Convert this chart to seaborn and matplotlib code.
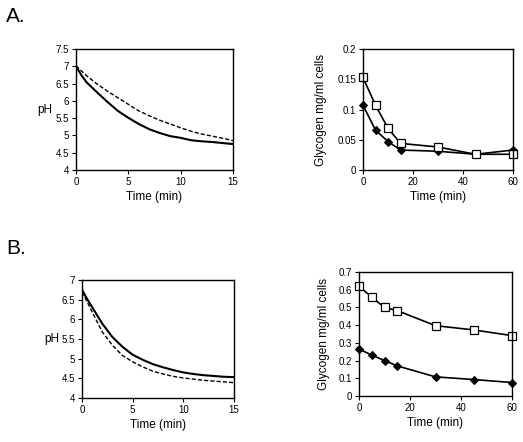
import matplotlib
matplotlib.use("Agg")
import matplotlib.pyplot as plt
import pandas as pd
import seaborn as sns

# pH traces (panel left), minutes
t_ph = [0, 0.5, 1, 2, 3, 4, 5, 6, 7, 8, 9, 10, 11, 12, 13, 14, 15]
ph_a_solid = [7.0, 6.75, 6.54, 6.25, 5.97, 5.71, 5.51, 5.33, 5.18, 5.07, 4.98, 4.93, 4.86, 4.83, 4.81, 4.78, 4.75]
ph_a_dash = [7.02, 6.87, 6.73, 6.49, 6.28, 6.09, 5.9, 5.71, 5.57, 5.44, 5.33, 5.22, 5.12, 5.04, 4.98, 4.92, 4.85]
ph_b_solid = [6.75, 6.52, 6.31, 5.89, 5.55, 5.3, 5.1, 4.97, 4.86, 4.78, 4.71, 4.65, 4.61, 4.58, 4.56, 4.54, 4.53]
ph_b_dash = [6.7, 6.45, 6.19, 5.68, 5.34, 5.08, 4.92, 4.79, 4.68, 4.61, 4.55, 4.51, 4.48, 4.45, 4.43, 4.41, 4.39]

# glycogen (panel right)
t_gly = [0, 5, 10, 15, 30, 45, 60]
gly_a_square = [0.153, 0.107, 0.069, 0.044, 0.038, 0.026, 0.026]
gly_a_diamond = [0.107, 0.066, 0.047, 0.033, 0.031, 0.026, 0.033]
gly_b_square = [0.62, 0.558, 0.5, 0.482, 0.397, 0.373, 0.341]
gly_b_diamond = [0.265, 0.231, 0.2, 0.17, 0.108, 0.093, 0.076]

sns.set_theme(style="white")
plt.rcParams["font.family"] = ["Liberation Sans", "DejaVu Sans"]
plt.rcParams["text.color"] = "black"
plt.rcParams["axes.labelcolor"] = "black"

W, H = 523, 442
fig = plt.figure(figsize=(W / 100, H / 100), dpi=100)


def px_axes(x0, y0, x1, y1):
    return fig.add_axes([x0 / W, 1 - y1 / H, (x1 - x0) / W, (y1 - y0) / H])


def style(ax):
    for s in ax.spines.values():
        s.set_visible(True)
        s.set_color("black")
        s.set_linewidth(1.0)
    ax.tick_params(direction="out", length=3, width=0.8, labelsize=7, pad=2,
                   bottom=True, left=True, colors="black")
    ax.set_xlabel("Time (min)", fontsize=8.5, labelpad=3)


def ph_panel(ax, solid, dash, ylim, yticks, ylabel_xy):
    df = pd.DataFrame({"t": t_ph, "solid": solid, "dash": dash})
    sns.lineplot(data=df, x="t", y="solid", ax=ax, color="black", lw=1.5)
    sns.lineplot(data=df, x="t", y="dash", ax=ax, color="black", lw=1.0, linestyle=(0, (3, 1.5)))
    ax.set_xlim(0, 15)
    ax.set_xticks([0, 5, 10, 15])
    ax.set_ylim(*ylim)
    ax.set_yticks(yticks)
    ax.set_yticklabels([f"{v:g}" for v in yticks])
    style(ax)
    ax.set_ylabel("pH", rotation=0, fontsize=8.5, ha="center", va="center")
    ax.yaxis.set_label_coords(*ylabel_xy)


def gly_panel(ax, square, diamond, ylim, yticks, ylabel_x):
    df = pd.DataFrame({"t": t_gly, "sq": square, "di": diamond})
    sns.lineplot(data=df, x="t", y="di", ax=ax, color="black", lw=1.2, clip_on=False,
                 marker="D", markersize=4.2, markerfacecolor="black", markeredgecolor="black")
    sns.lineplot(data=df, x="t", y="sq", ax=ax, color="black", lw=1.2, clip_on=False,
                 marker="s", markersize=6, markerfacecolor="white", markeredgecolor="black",
                 markeredgewidth=0.9)
    ax.set_xlim(0, 60)
    ax.set_xticks([0, 20, 40, 60])
    ax.set_ylim(*ylim)
    ax.set_yticks(yticks)
    ax.set_yticklabels([f"{v:g}" for v in yticks])
    style(ax)
    ax.set_ylabel("Glycogen mg/ml cells", fontsize=8.5)
    ax.yaxis.set_label_coords(ylabel_x, 0.5)


ax1 = px_axes(76, 49, 233, 170)
ph_panel(ax1, ph_a_solid, ph_a_dash, (4, 7.5), [4, 4.5, 5, 5.5, 6, 6.5, 7, 7.5], (-0.2, 0.5))

ax2 = px_axes(363, 49, 513, 170)
gly_panel(ax2, gly_a_square, gly_a_diamond, (0, 0.2), [0, 0.05, 0.1, 0.15, 0.2], -0.24)

ax3 = px_axes(82, 280, 234, 398)
ph_panel(ax3, ph_b_solid, ph_b_dash, (4, 7), [4, 4.5, 5, 5.5, 6, 6.5, 7], (-0.2, 0.5))

ax4 = px_axes(359, 272, 512, 396)
gly_panel(ax4, gly_b_square, gly_b_diamond, (0, 0.7), [0, 0.1, 0.2, 0.3, 0.4, 0.5, 0.6, 0.7], -0.19)

fig.text(6 / W, 1 - 17 / H, "A.", fontsize=15, va="center", ha="left")
fig.text(6 / W, 1 - 249 / H, "B.", fontsize=15, va="center", ha="left")

fig.savefig("out.png", dpi=100)
